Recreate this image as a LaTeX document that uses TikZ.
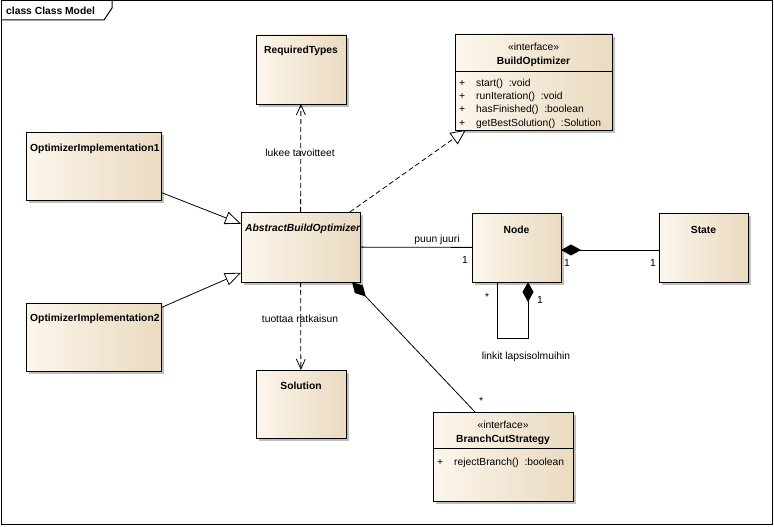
\documentclass[tikz,border=0pt]{standalone}
\usepackage{fontspec}
\setmainfont{Liberation Sans}
\usetikzlibrary{arrows.meta,shadows,calc}
\definecolor{boxL}{HTML}{FCF6EC}
\definecolor{boxR}{HTML}{EADAC0}
\begin{document}
\begin{tikzpicture}[x=1pt,y=-1pt,
  font=\fontsize{10.3}{12}\selectfont,
  umlbox/.style={draw=black, line width=0.9pt, left color=boxL, right color=boxR,
    inner sep=0pt, outer sep=0pt,
    drop shadow={shadow xshift=3pt,shadow yshift=-3pt,fill=black!25,opacity=1}},
  txt/.style={inner sep=0pt, anchor=base},
  ltxt/.style={inner sep=0pt, anchor=base west},
  conn/.style={line width=0.8pt},
  gen/.style={conn, -{Triangle[open,length=16pt,width=13pt,fill=white]}},
  realiz/.style={conn, dash pattern=on 5pt off 3pt, -{Triangle[open,length=15pt,width=14pt,fill=white]}},
  dep/.style={conn, dash pattern=on 5pt off 3pt, -{Straight Barb[length=10pt,width=9pt]}},
  compo/.style={conn, {Diamond[length=20pt,width=11pt]}-},
]
\useasboundingbox (0,0) rectangle (774,527);
\fill[white] (0,0) rectangle (774,527);
% frame
\draw[line width=1pt] (1,1) rectangle (772,524);
\draw[line width=1pt] (1,20) -- (104,20) -- (112,8) -- (112,1);
\node[ltxt, font=\fontsize{10.3}{12}\selectfont\bfseries] (title) at (6,15) {class Class Model};

% boxes
\node[umlbox, minimum width=90pt, minimum height=69pt] (req) at (301,69.5) {};
\node[umlbox, minimum width=157pt, minimum height=96pt] (bo) at (533.5,82) {};
\node[umlbox, minimum width=119pt, minimum height=70pt] (abo) at (300.5,247) {};
\node[umlbox, minimum width=89pt, minimum height=69pt] (node) at (516.5,247.5) {};
\node[umlbox, minimum width=89pt, minimum height=69pt] (state) at (703.5,247.5) {};
\node[umlbox, minimum width=135pt, minimum height=68pt] (oi1) at (93.5,166) {};
\node[umlbox, minimum width=135pt, minimum height=68pt] (oi2) at (93.5,337) {};
\node[umlbox, minimum width=90pt, minimum height=68pt] (sol) at (301,404) {};
\node[umlbox, minimum width=140pt, minimum height=89pt] (bcs) at (503,456.5) {};
\draw[line width=0.9pt] (bo.west |- 0,71) -- (bo.east |- 0,71);
\draw[line width=0.9pt] (bcs.west |- 0,448) -- (bcs.east |- 0,448);

% box texts
\node[txt, font=\fontsize{10.3}{12}\selectfont\bfseries] (reqT) at (301,54) {RequiredTypes};
\node[txt] (boS) at (533.5,51) {«interface»};
\node[txt, font=\fontsize{10.3}{12}\selectfont\bfseries] (boT) at (533.5,65) {BuildOptimizer};
\node[ltxt] (boP1) at (459,86) {+};
\node[ltxt] (boM1) at (476,86) {start()\ \ :void};
\node[ltxt] (boP2) at (459,99.5) {+};
\node[ltxt] (boM2) at (476,99.5) {runIteration()\ \ :void};
\node[ltxt] (boP3) at (459,113) {+};
\node[ltxt] (boM3) at (476,113) {hasFinished()\ \ :boolean};
\node[ltxt] (boP4) at (459,126.5) {+};
\node[ltxt] (boM4) at (476,126.5) {getBestSolution()\ \ :Solution};
\node[ltxt, font=\fontsize{10.3}{12}\selectfont\bfseries\itshape] (aboT) at (245,231) {AbstractBuildOptimizer};
\node[txt, font=\fontsize{10.3}{12}\selectfont\bfseries] (nodeT) at (516.5,233) {Node};
\node[txt, font=\fontsize{10.3}{12}\selectfont\bfseries] (stateT) at (703.5,233) {State};
\node[ltxt, font=\fontsize{10.3}{12}\selectfont\bfseries] (oi1T) at (30,151) {OptimizerImplementation1};
\node[ltxt, font=\fontsize{10.3}{12}\selectfont\bfseries] (oi2T) at (30,321.5) {OptimizerImplementation2};
\node[txt, font=\fontsize{10.3}{12}\selectfont\bfseries] (solT) at (301,389) {Solution};
\node[txt] (bcsS) at (503,428) {«interface»};
\node[txt, font=\fontsize{10.3}{12}\selectfont\bfseries] (bcsT) at (503,442.5) {BranchCutStrategy};
\node[ltxt] (bcsP) at (437,465) {+};
\node[ltxt] (bcsM) at (454,465) {rejectBranch()\ \ :boolean};

% connectors
\draw[gen] (oi1) -- (abo);
\draw[gen] (oi2) -- (abo);
\draw[dep] (abo) -- (req);
\draw[dep] (abo) -- (sol);
\draw[realiz] (abo) -- (bo);
\draw[conn] (abo) -- (node);
\draw[compo] ($(node.east)+(0,2.5)$) -- ($(state.west)+(0,2.5)$);
\draw[compo] ($(abo.south east)+(-8,0)$) -- ($(bcs.north west)+(42,0)$);
\draw[compo] ($(node.south)+(11.5,0)$) -- ++(0,56) -| ($(node.south)+(-19.5,0)$);

% connector labels
\node[txt] (l1) at (300,156) {lukee tavoitteet};
\node[txt] (l2) at (300,322) {tuottaa ratkaisun};
\node[txt] (l3) at (437,242) {puun juuri};
\node[txt] (l4) at (465,263) {1};
\node[txt] (l5) at (567,266) {1};
\node[txt] (l6) at (653,266) {1};
\node[txt] (l7) at (487,300) {*};
\node[txt] (l8) at (540,303) {1};
\node[txt] (l9) at (526,359) {linkit lapsisolmuihin};
\node[txt] (l10) at (481,404) {*};
\end{tikzpicture}
\end{document}
